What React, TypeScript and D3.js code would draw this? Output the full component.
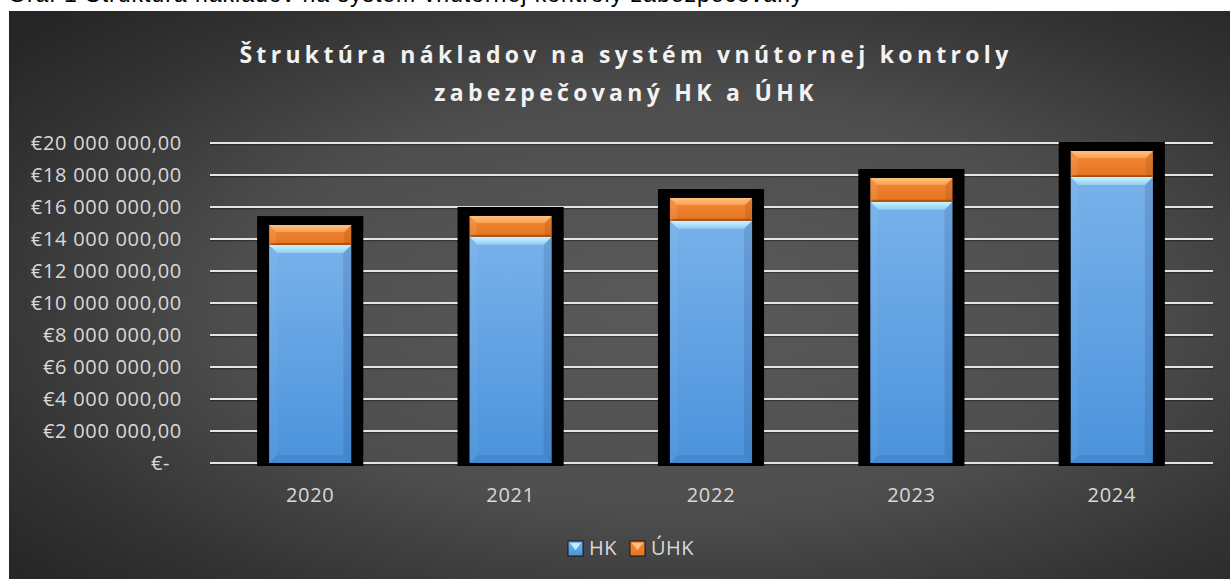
import React from "react";
import * as d3 from "d3";

const categories = ["2020", "2021", "2022", "2023", "2024"];
const hkValues = [13620000, 14140000, 15140000, 16330000, 17880000];
const uhkValues = [1250000, 1300000, 1420000, 1480000, 1620000];
const yTicks = [0, 2000000, 4000000, 6000000, 8000000, 10000000, 12000000, 14000000, 16000000, 18000000, 20000000];
const seriesNames = ["HK", "ÚHK"];
const titleLines = ["Štruktúra nákladov na systém vnútornej kontroly", "zabezpečovaný HK a ÚHK"];
const captionText = "Graf 1 Štruktúra nákladov na systém vnútornej kontroly zabezpečovaný";

const W = 1230;
const H = 579;
const FONT = "'Open Sans', 'DejaVu Sans', sans-serif";

const locale = d3.formatLocale({ decimal: ",", thousands: " ", grouping: [3], currency: ["€", ""] });
const fmt = locale.format("$,.2f");
const tickLabel = (v: number) => (v === 0 ? "€-\u00a0\u00a0" : fmt(v));

type Style = { base: string; top: string; right: string; left: string; bottom: string; b: number; bBottom: number };

function BevelRect({ x, y, w, h, s }: { x: number; y: number; w: number; h: number; s: Style }) {
  const bb = Math.min(s.b, h / 2, w / 2);
  const bt = Math.min(s.bBottom, h / 2);
  const p = (pts: number[][]) => pts.map((q) => q.join(",")).join(" ");
  return (
    <g>
      <rect x={x} y={y} width={w} height={h} fill={s.base} />
      <polygon points={p([[x, y + h], [x + w, y + h], [x + w - bt, y + h - bt], [x + bt, y + h - bt]])} fill={s.bottom} />
      <polygon points={p([[x, y], [x + bb, y + bb], [x + bb, y + h - bt], [x, y + h]])} fill={s.left} />
      <polygon points={p([[x + w, y], [x + w - bb, y + bb], [x + w - bb, y + h - bt], [x + w, y + h]])} fill={s.right} />
      <polygon points={p([[x, y], [x + w, y], [x + w - bb, y + bb], [x + bb, y + bb]])} fill={s.top} />
    </g>
  );
}

const styles: Style[] = [
  { base: "url(#blueBase)", top: "url(#blueTop)", right: "rgba(20,40,90,0.14)", left: "rgba(255,255,255,0.04)", bottom: "rgba(20,50,100,0.10)", b: 8, bBottom: 8 },
  { base: "url(#orangeBase)", top: "url(#orangeTop)", right: "rgba(120,50,10,0.15)", left: "rgba(255,220,170,0.12)", bottom: "rgba(110,45,5,0.45)", b: 7, bBottom: 2 },
];

export default function App() {
  const x = d3.scaleBand<string>().domain(categories).range([210, 1212]).paddingInner(0.59).paddingOuter(0.295);
  const y = d3.scaleLinear().domain([0, 20000000]).range([463, 143]);
  const rows = categories.map((c, i) => ({ cat: c, HK: hkValues[i], "ÚHK": uhkValues[i] }));
  const stack = d3.stack<any>().keys(seriesNames)(rows);
  const bw = x.bandwidth();

  return (
    <svg width={W} height={H} style={{ position: "absolute", left: 0, top: 0, background: "#fff" }}>
      <defs>
        <radialGradient id="bg" cx="0.55" cy="0.52" r="0.72">
          <stop offset="0" stopColor="#5a5a5a" />
          <stop offset="0.5" stopColor="#4e4e4e" />
          <stop offset="0.8" stopColor="#343434" />
          <stop offset="1" stopColor="#262626" />
        </radialGradient>
        <linearGradient id="blueBase" x1="0" y1="0" x2="0" y2="1">
          <stop offset="0" stopColor="#78b1ea" />
          <stop offset="1" stopColor="#4b93dc" />
        </linearGradient>
        <linearGradient id="blueTop" x1="0" y1="0" x2="0" y2="1">
          <stop offset="0" stopColor="#c9f6ff" />
          <stop offset="1" stopColor="#92cdf2" />
        </linearGradient>
        <linearGradient id="orangeBase" x1="0" y1="0" x2="0" y2="1">
          <stop offset="0" stopColor="#f28a3a" />
          <stop offset="1" stopColor="#e6741f" />
        </linearGradient>
        <linearGradient id="orangeTop" x1="0" y1="0" x2="0" y2="1">
          <stop offset="0" stopColor="#ffc27c" />
          <stop offset="1" stopColor="#f8a052" />
        </linearGradient>
      </defs>

      <text x={8} y={2} fontFamily="'Liberation Sans', sans-serif" fontSize={23} letterSpacing={1} fill="#000">{captionText}</text>

      <rect x={9} y={11} width={W - 9} height={H - 11} fill="url(#bg)" />

      <text textAnchor="middle" fontFamily={FONT} fontWeight={700} fontSize={23} letterSpacing={4.3} fill="#f2f2f2">
        <tspan x={626} y={63}>{titleLines[0]}</tspan>
        <tspan x={626} y={101}>{titleLines[1]}</tspan>
      </text>

      {yTicks.map((t) => (
        <g key={t}>
          <line x1={210} x2={1213} y1={y(t) + 1.5} y2={y(t) + 1.5} stroke="rgba(0,0,0,0.35)" strokeWidth={1.5} />
          <line x1={210} x2={1213} y1={y(t)} y2={y(t)} stroke="#e4e4e4" strokeWidth={2} />
          <text x={182} y={y(t) + 7} textAnchor="end" fontFamily={FONT} fontSize={20} letterSpacing={0.7} fill="#d9d9d9">
            {tickLabel(t)}
          </text>
        </g>
      ))}

      {categories.map((c, i) => {
        const total = hkValues[i] + uhkValues[i];
        const top = y(total) - 9;
        return (
          <rect key={c} x={(x(c) as number) - 12} y={top} width={bw + 24} height={y(0) + 3 - top} fill="#000" />
        );
      })}

      {stack.map((s, si) => (
        <g key={s.key}>
          {s.map((d, i) => (
            <BevelRect
              key={i}
              x={x(categories[i]) as number}
              y={y(d[1])}
              w={bw}
              h={y(d[0]) - y(d[1])}
              s={styles[si]}
            />
          ))}
        </g>
      ))}

      {categories.map((c) => (
        <text key={c} x={(x(c) as number) + bw / 2} y={502} textAnchor="middle" fontFamily={FONT} fontSize={20} letterSpacing={0.7} fill="#d9d9d9">
          {c}
        </text>
      ))}

      {seriesNames.map((n, i) => {
        const lx = i === 0 ? 568 : 630;
        return (
          <g key={n}>
            <rect x={lx} y={541} width={15} height={15} fill={i === 0 ? "url(#blueBase)" : "url(#orangeBase)"} stroke="#151515" strokeWidth={1} />
            <polygon points={`${lx + 2},${543} ${lx + 13},${543} ${lx + 7.5},${550}`} fill={i === 0 ? "#bff0ff" : "#ffc07a"} />
            <text x={lx + 21} y={555} fontFamily={FONT} fontSize={20} letterSpacing={0.5} fill="#d9d9d9">{n}</text>
          </g>
        );
      })}
    </svg>
  );
}
